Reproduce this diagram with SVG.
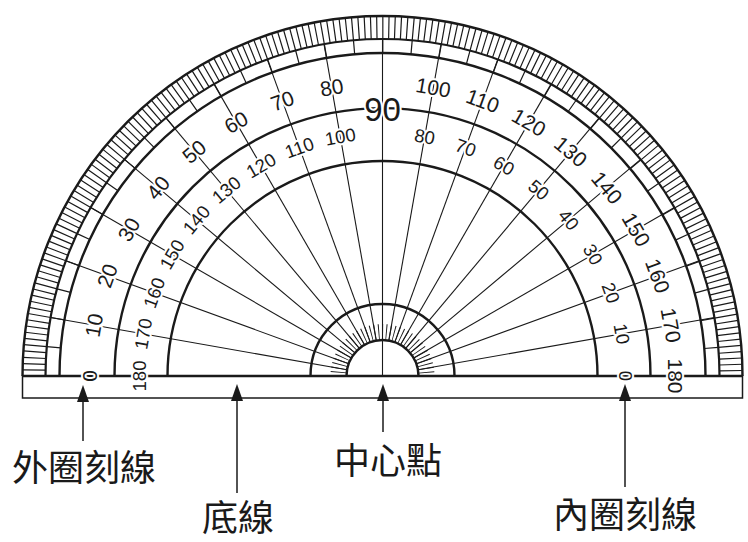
<svg xmlns="http://www.w3.org/2000/svg" width="748" height="542" viewBox="0 0 748 542">
<style>
.arc{fill:none;stroke:#1a1a1a;stroke-width:2.4}
.rad{stroke:#1a1a1a;stroke-width:1.1}
.num{font-family:"Liberation Sans",Arial,sans-serif;fill:#1a1a1a;text-anchor:middle;dominant-baseline:central;stroke:#fff;stroke-width:4;stroke-linejoin:round;paint-order:stroke}
.o{font-size:21px}
.i{font-size:18.5px}
.big{font-size:33px}
.lbl{font-family:"Noto Sans CJK TC","Noto Sans CJK SC",sans-serif;font-size:36px;fill:#1a1a1a;text-anchor:middle;dominant-baseline:central}
.conn{stroke:#1a1a1a;stroke-width:1.5;fill:none}
.head{fill:#1a1a1a}
</style>
<rect width="748" height="542" fill="#fff"/>
<g id="protractor">
  <rect x="22.5" y="376" width="720" height="22" fill="none" stroke="#1a1a1a" stroke-width="1.5"/>
  <path d="M 34,376 A 348.5 348.5 0 0 1 731,376" fill="none" stroke="#1a1a1a" stroke-width="23" stroke-dasharray="1.2 4.882472" stroke-dashoffset="0.6"/>
  <path d="M 52.5,376 A 330 330 0 0 1 712.5,376" fill="none" stroke="#1a1a1a" stroke-width="14" stroke-dasharray="1.2 27.597933" stroke-dashoffset="0.6"/>
  <path d="M 338.5,376 A 44 44 0 0 1 426.5,376" fill="none" stroke="#1a1a1a" stroke-width="16" stroke-dasharray="0.9 2.939724" stroke-dashoffset="0.45"/>
  <g transform="translate(382.5,376)">
    <line class="rad" x1="0" y1="0" x2="0" y2="-337"/>
    <line class="rad" y1="-36" y2="-337" transform="rotate(-80)"/>
    <line class="rad" y1="-36" y2="-337" transform="rotate(-70)"/>
    <line class="rad" y1="-36" y2="-337" transform="rotate(-60)"/>
    <line class="rad" y1="-36" y2="-337" transform="rotate(-50)"/>
    <line class="rad" y1="-36" y2="-337" transform="rotate(-40)"/>
    <line class="rad" y1="-36" y2="-337" transform="rotate(-30)"/>
    <line class="rad" y1="-36" y2="-337" transform="rotate(-20)"/>
    <line class="rad" y1="-36" y2="-337" transform="rotate(-10)"/>
    <line class="rad" y1="-36" y2="-337" transform="rotate(10)"/>
    <line class="rad" y1="-36" y2="-337" transform="rotate(20)"/>
    <line class="rad" y1="-36" y2="-337" transform="rotate(30)"/>
    <line class="rad" y1="-36" y2="-337" transform="rotate(40)"/>
    <line class="rad" y1="-36" y2="-337" transform="rotate(50)"/>
    <line class="rad" y1="-36" y2="-337" transform="rotate(60)"/>
    <line class="rad" y1="-36" y2="-337" transform="rotate(70)"/>
    <line class="rad" y1="-36" y2="-337" transform="rotate(80)"/>
  </g>
  <path class="arc" d="M 22.5,376 A 360 360 0 0 1 742.5,376"/>
  <path class="arc" d="M 45.5,376 A 337 337 0 0 1 719.5,376" style="stroke-width:2.2"/>
  <path class="arc" d="M 59.5,376 A 323 323 0 0 1 705.5,376"/>
  <path class="arc" d="M 114.5,376 A 268 268 0 0 1 650.5,376"/>
  <path class="arc" d="M 167.5,376 A 215 215 0 0 1 597.5,376"/>
  <path class="arc" d="M 310.5,376 A 72 72 0 0 1 454.5,376"/>
  <path class="arc" d="M 346.5,376 A 36 36 0 0 1 418.5,376"/>
  <line x1="22.5" y1="376" x2="742.5" y2="376" stroke="#1a1a1a" stroke-width="2.4"/>
  <g transform="translate(382.5,376)">
    <text class="num o" transform="rotate(-90) translate(0,-293)">0</text>
    <text class="num o" transform="rotate(-80) translate(0,-293)">10</text>
    <text class="num o" transform="rotate(-70) translate(0,-293)">20</text>
    <text class="num o" transform="rotate(-60) translate(0,-293)">30</text>
    <text class="num o" transform="rotate(-50) translate(0,-293)">40</text>
    <text class="num o" transform="rotate(-40) translate(0,-293)">50</text>
    <text class="num o" transform="rotate(-30) translate(0,-293)">60</text>
    <text class="num o" transform="rotate(-20) translate(0,-293)">70</text>
    <text class="num o" transform="rotate(-10) translate(0,-293)">80</text>
    <text class="num big" transform="translate(0,-267)">90</text>
    <text class="num o" transform="rotate(10) translate(0,-293)">100</text>
    <text class="num o" transform="rotate(20) translate(0,-293)">110</text>
    <text class="num o" transform="rotate(30) translate(0,-293)">120</text>
    <text class="num o" transform="rotate(40) translate(0,-293)">130</text>
    <text class="num o" transform="rotate(50) translate(0,-293)">140</text>
    <text class="num o" transform="rotate(60) translate(0,-293)">150</text>
    <text class="num o" transform="rotate(70) translate(0,-293)">160</text>
    <text class="num o" transform="rotate(80) translate(0,-293)">170</text>
    <text class="num o" transform="rotate(90) translate(0,-293)">180</text>
    <text class="num i" transform="rotate(90) translate(0,-243)">0</text>
    <text class="num i" transform="rotate(80) translate(0,-243)">10</text>
    <text class="num i" transform="rotate(70) translate(0,-243)">20</text>
    <text class="num i" transform="rotate(60) translate(0,-243)">30</text>
    <text class="num i" transform="rotate(50) translate(0,-243)">40</text>
    <text class="num i" transform="rotate(40) translate(0,-243)">50</text>
    <text class="num i" transform="rotate(30) translate(0,-243)">60</text>
    <text class="num i" transform="rotate(20) translate(0,-243)">70</text>
    <text class="num i" transform="rotate(10) translate(0,-243)">80</text>
    <text class="num i" transform="rotate(-10) translate(0,-243)">100</text>
    <text class="num i" transform="rotate(-20) translate(0,-243)">110</text>
    <text class="num i" transform="rotate(-30) translate(0,-243)">120</text>
    <text class="num i" transform="rotate(-40) translate(0,-243)">130</text>
    <text class="num i" transform="rotate(-50) translate(0,-243)">140</text>
    <text class="num i" transform="rotate(-60) translate(0,-243)">150</text>
    <text class="num i" transform="rotate(-70) translate(0,-243)">160</text>
    <text class="num i" transform="rotate(-80) translate(0,-243)">170</text>
    <text class="num i" transform="rotate(-90) translate(0,-243)">180</text>
  </g>
</g>
<g id="connectors">
  <line class="conn" x1="83" y1="398" x2="83" y2="441"/>
  <polygon class="head" points="83,385 77,402 89,402"/>
  <line class="conn" x1="237" y1="398" x2="237" y2="493"/>
  <polygon class="head" points="237,384 231,401 243,401"/>
  <line class="conn" x1="383" y1="398" x2="383" y2="432"/>
  <polygon class="head" points="383,384 377,401 389,401"/>
  <line class="conn" x1="625" y1="398" x2="625" y2="487"/>
  <polygon class="head" points="625,384 619,401 631,401"/>
</g>
<g id="label-outer"><text class="lbl" x="84" y="465">外圈刻線</text></g>
<g id="label-base"><text class="lbl" x="238" y="515">底線</text></g>
<g id="label-center"><text class="lbl" x="388" y="458">中心點</text></g>
<g id="label-inner"><text class="lbl" x="625" y="512">內圈刻線</text></g>
</svg>
